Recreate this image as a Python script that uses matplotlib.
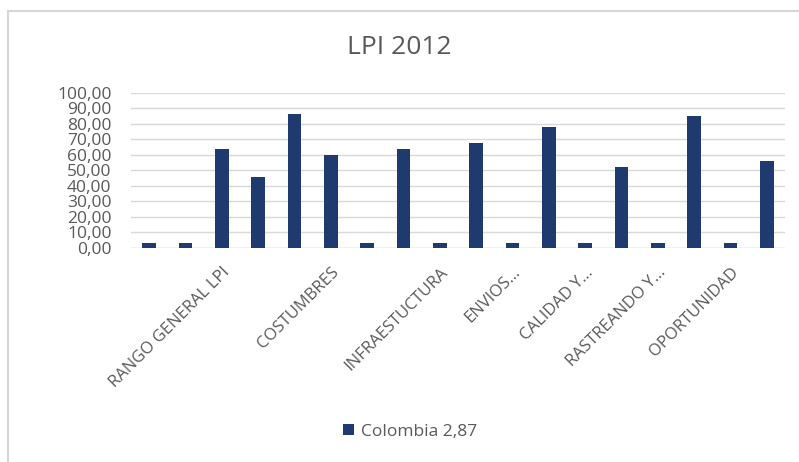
import matplotlib
matplotlib.use('Agg')
import matplotlib.pyplot as plt
from matplotlib.lines import Line2D
from matplotlib.ticker import FuncFormatter

plt.rcParams['font.family'] = ['Open Sans', 'DejaVu Sans']

# datos del indice LPI 2012
categorias = ['', '', 'RANGO GENERAL LPI', '', '', 'COSTUMBRES', '', '',
              'INFRAESTUCTURA', '', 'ENVIOS...', '', 'CALIDAD Y...', '',
              'RASTREANDO Y...', '', 'OPORTUNIDAD', '']
valores = [2.87, 2.87, 63.8, 45.5, 86.4, 59.9, 2.87, 63.8, 2.87,
           67.9, 2.87, 77.8, 2.87, 52.0, 2.87, 85.1, 2.87, 56.2]
yticks = list(range(0, 101, 10))
serie = 'Colombia 2,87'

azul = '#1f3a6e'
gris_txt = '#595959'
gris_lin = '#d9d9d9'

fig = plt.figure(figsize=(7.99, 4.62), dpi=100)
ax = fig.add_axes([131/799, 1-247.7/462, (785-131)/799, (247.7-93)/462])

x = list(range(len(valores)))
ax.bar(x, valores, width=0.37, color=azul, label=serie, zorder=3)

ax.set_xlim(-0.5, len(valores) - 0.5)
ax.set_ylim(0, 100)
ax.set_yticks(yticks)
ax.yaxis.set_major_formatter(FuncFormatter(lambda v, p: f'{v:.2f}'.replace('.', ',')))
ax.grid(axis='y', color=gris_lin, linewidth=1, zorder=0)
for s in ax.spines.values():
    s.set_visible(False)
ax.axhline(0, color=gris_lin, linewidth=1, zorder=2)
ax.tick_params(axis='both', length=0, labelsize=12.5, labelcolor=gris_txt)
ax.tick_params(axis='y', pad=14)

# solo las categorias con nombre llevan etiqueta
pos = [i for i, c in enumerate(categorias) if c]
ax.set_xticks(pos)
ax.set_xticklabels([categorias[i] for i in pos], rotation=45, ha='right',
                   rotation_mode='anchor', fontsize=12)
ax.tick_params(axis='x', pad=12)

fig.text(0.5, 1-48/462, 'LPI 2012', ha='center', va='center',
         fontsize=19, color=gris_txt)

leg = fig.legend(loc='center', bbox_to_anchor=(410/799, 1-432/462),
                 frameon=False, fontsize=12.5, handlelength=0.6,
                 handleheight=0.6, handletextpad=0.4)
for t in leg.get_texts():
    t.set_color(gris_txt)

# marco del grafico
fig.add_artist(Line2D([8/799, 8/799], [0, 1-11/462], color='#d6d6d6', linewidth=1.5))
fig.add_artist(Line2D([8/799, 1], [1-11/462, 1-11/462], color='#d6d6d6', linewidth=1.5))

plt.savefig('out.png', dpi=100)
